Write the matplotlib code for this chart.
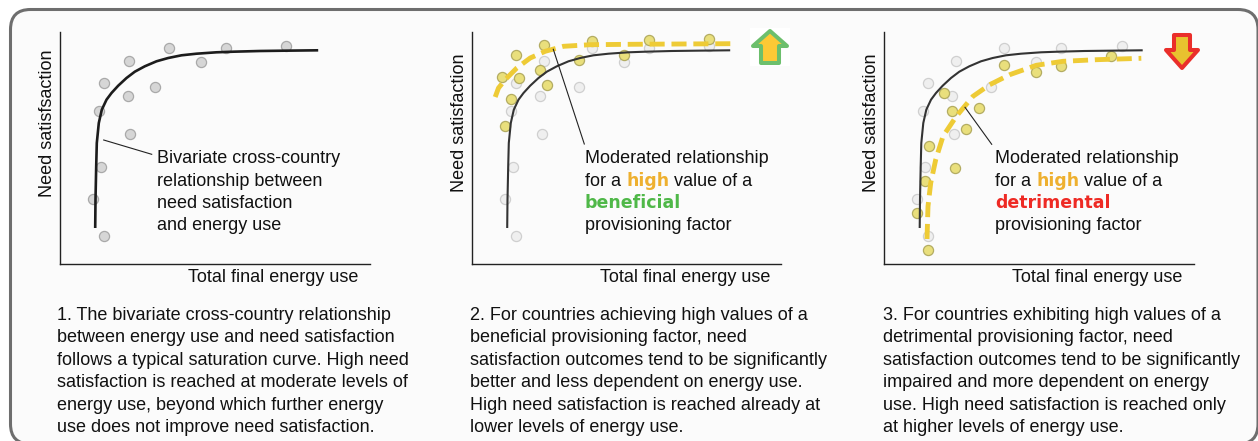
import matplotlib
matplotlib.use("Agg")
import matplotlib.pyplot as plt
from matplotlib.patches import FancyBboxPatch, Polygon, Rectangle

plt.rcParams['font.family'] = ['Liberation Sans', 'DejaVu Sans']

# scatter values (energy use, need satisfaction)
base_x = [44, 69, 109, 166, 226, 141, 95, 68, 39, 70, 41, 33, 44]
base_y = [181, 203, 216, 216, 218, 202, 177, 168, 153, 130, 97, 65, 28]
pale_x = [44, 72, 120, 177, 238, 152, 107, 68, 39, 70, 41, 33, 44]
benef_x = [30, 44, 72, 120, 177, 238, 152, 107, 68, 47, 75, 39, 33]
benef_y = [187, 209, 219, 223, 224, 225, 209, 204, 194, 186, 179, 165, 138]
detr_x = [60, 68, 95, 82, 45, 71, 41, 33, 44, 120, 152, 177, 227]
detr_y = [171, 153, 156, 135, 118, 96, 83, 51, 14, 199, 192, 198, 208]

# fitted curves
curve_x = [35.7, 36, 36.7, 37.3, 39.3, 42.3, 47, 52, 58.7, 67, 75.3, 85.3, 97, 108.7, 122, 137, 157, 173.7, 200.3, 223.7, 258.7]
curve_y = [36, 64.3, 97.7, 121, 141, 154.3, 164.3, 171, 178.3, 186, 192.3, 197.7, 202.7, 206, 208.7, 210.3, 211.7, 212.3, 213, 213.3, 213.7]
benef_curve_x = [23.7, 27, 33.7, 45.3, 58.7, 73.7, 92, 118.7, 159, 208.7, 259.7]
benef_curve_y = [167, 176, 184.3, 196, 206, 212.7, 217.7, 219.3, 219.7, 220, 220.3]
detr_curve_x = [43, 44, 46.7, 51.7, 59, 72.3, 89, 105.7, 125.7, 152.3, 179, 212.3, 257.3]
detr_curve_y = [25, 57.7, 81, 104.3, 127.7, 147.7, 167.7, 179.3, 189.3, 198.7, 202.7, 204.3, 205.7]

y_labels = ["Need satisfsaction", "Need satisfaction", "Need satisfaction"]
x_label = "Total final energy use"
notes = [
    ["1. The bivariate cross-country relationship",
     "between energy use and need satisfaction",
     "follows a typical saturation curve. High need",
     "satisfaction is reached at moderate levels of",
     "energy use, beyond which further energy",
     "use does not improve need satisfaction."],
    ["2. For countries achieving high values of a",
     "beneficial provisioning factor, need",
     "satisfaction outcomes tend to be significantly",
     "better and less dependent on energy use.",
     "High need satisfaction is reached already at",
     "lower levels of energy use."],
    ["3. For countries exhibiting high values of a",
     "detrimental provisioning factor, need",
     "satisfaction outcomes tend to be significantly",
     "impaired and more dependent on energy",
     "use. High need satisfaction is reached only",
     "at higher levels of energy use."],
]

W, H = 1258, 441
FS = 12.95
BOLD_FS = 12.5
INK = "#111111"
fig = plt.figure(figsize=(W / 100, H / 100), dpi=100, facecolor="white")

# pixel coordinate layer for frame, text and arrows
bg = fig.add_axes([0, 0, 1, 1], zorder=0)
bg.set_xlim(0, W)
bg.set_ylim(H, 0)
bg.axis("off")
bg.add_patch(FancyBboxPatch((10.5, 9.5), 1247.5, 434.5, boxstyle="round,pad=0,rounding_size=20",
                            fc="#fbfbfb", ec="#6e6e6e", lw=2.2))

over = fig.add_axes([0, 0, 1, 1], zorder=5)
over.set_xlim(0, W)
over.set_ylim(H, 0)
over.axis("off")


def panel(left, ylabel):
    ax = fig.add_axes([left / W, 1 - 264 / H, 310 / W, 232 / H], zorder=2)
    ax.patch.set_alpha(0)
    ax.set_xlim(0, 310)
    ax.set_ylim(0, 232)
    ax.set_xticks([])
    ax.set_yticks([])
    ax.spines[["top", "right"]].set_visible(False)
    ax.spines[["left", "bottom"]].set_linewidth(1.0)
    ax.spines[["left", "bottom"]].set_color("#222222")
    over.text(left - 7.8, 123, ylabel, rotation=90, rotation_mode="anchor", ha="center", va="baseline",
              fontsize=FS, color=INK)
    over.text(left + 128.5, 282.5, x_label, va="baseline", fontsize=FS, color=INK)
    return ax


def dots(ax, x, y, fc, ec, z=2):
    ax.plot(x, y, "o", ms=7.3, mfc=fc, mec=ec, mew=0.9, zorder=z, clip_on=False)


def dashed(ax, x, y):
    ax.plot(x, y, color="#eecb36", lw=3.5, ls=(0, (3.1, 1.4)), dash_capstyle="butt", zorder=4)


left1, left2, left3 = 59.5, 471.5, 884
ax1 = panel(left1, y_labels[0])
dots(ax1, base_x, base_y, "#d6d6d6", "#a9a9a9")
ax1.plot(curve_x, curve_y, color="#1c1c1c", lw=1.9, zorder=3, solid_capstyle="butt")

ax2 = panel(left2, y_labels[1])
dots(ax2, pale_x, base_y, "#efefef", "#cfcfcf")
dots(ax2, benef_x, benef_y, "#e9df7c", "#b3ac62")
ax2.plot(curve_x, curve_y, color="#333333", lw=1.5, zorder=3, solid_capstyle="butt")
dashed(ax2, benef_curve_x, benef_curve_y)

ax3 = panel(left3, y_labels[2])
dots(ax3, pale_x, base_y, "#efefef", "#cfcfcf")
dots(ax3, detr_x, detr_y, "#e9df7c", "#b3ac62")
ax3.plot(curve_x, curve_y, color="#333333", lw=1.5, zorder=3, solid_capstyle="butt")
dashed(ax3, detr_curve_x, detr_curve_y)

# leader lines
over.plot([103.7, 151.7], [140, 154.3], color="#222222", lw=0.8)
over.plot([553.3, 584.3], [49.3, 144], color="#222222", lw=0.8)
over.plot([965, 991.7], [107.3, 144.3], color="#222222", lw=0.8)

# annotations
rows = [163, 185.5, 208, 230]
for y, s in zip(rows, ["Bivariate cross-country", "relationship between", "need satisfaction", "and energy use"]):
    over.text(157, y, s, va="baseline", fontsize=FS, color=INK)


def moderated(x, hx, vx, word, colour):
    over.text(x, rows[0], "Moderated relationship", va="baseline", fontsize=FS, color=INK)
    over.text(x, rows[1], "for a", va="baseline", fontsize=FS, color=INK)
    over.text(hx, rows[1], "high", va="baseline", fontsize=BOLD_FS, color="#eeb02f", family="DejaVu Sans", weight="bold")
    over.text(vx, rows[1], "value of a", va="baseline", fontsize=FS, color=INK)
    over.text(x, rows[2], word, va="baseline", fontsize=BOLD_FS, color=colour, family="DejaVu Sans", weight="bold")
    over.text(x, rows[3], "provisioning factor", va="baseline", fontsize=FS, color=INK)


moderated(585, 626.5, 673.5, "beneficial", "#4fb848")
moderated(995, 1036.5, 1084, "detrimental", "#ee2a24")

# arrows
bg.add_patch(Rectangle((750, 28), 40, 38, fc="white", ec="none"))
up = [(770, 31), (787, 46), (779, 46), (779, 63), (761, 63), (761, 46), (753, 46)]
over.add_patch(Polygon(up, closed=True, fc="#fdc935", ec="#6cbf6c", lw=2.9, joinstyle="round"))
down = [(1174, 35), (1190, 35), (1190, 50), (1198, 50), (1182, 68), (1166, 50), (1174, 50)]
over.add_patch(Polygon(down, closed=True, fc="#e8c22f", ec="#ea2e2a", lw=2.9, joinstyle="round"))

# description text
note_x = [57, 470, 883]
for x, lines in zip(note_x, notes):
    for i, s in enumerate(lines):
        over.text(x, 320 + i * 22.4, s, va="baseline", fontsize=FS, color=INK)

fig.savefig("out.png", dpi=100)
